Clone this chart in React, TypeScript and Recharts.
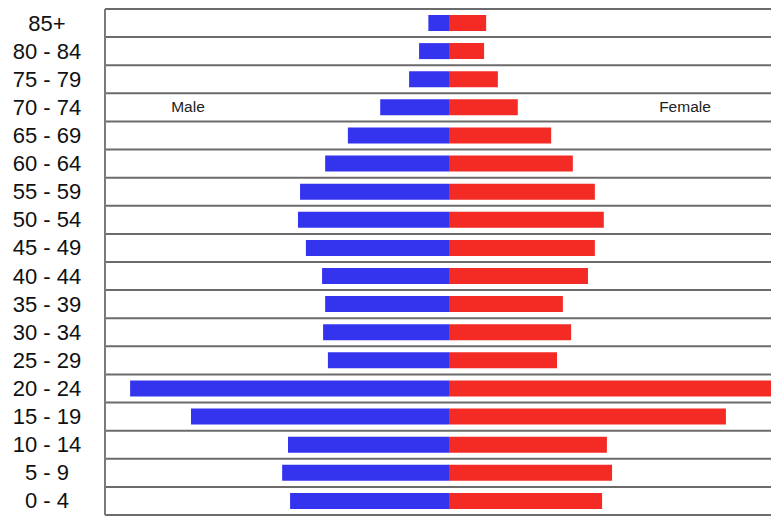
import { BarChart, Bar, XAxis, YAxis, CartesianGrid } from "recharts";

// age groups, top to bottom
const ageGroups = [
    "85+", "80 - 84", "75 - 79", "70 - 74", "65 - 69", "60 - 64", "55 - 59", "50 - 54", "45 - 49",
    "40 - 44", "35 - 39", "30 - 34", "25 - 29", "20 - 24", "15 - 19", "10 - 14", "5 - 9", "0 - 4",
];
const maleValues = [0.6, 0.87, 1.16, 2.0, 2.94, 3.6, 4.33, 4.39, 4.16, 3.69, 3.6, 3.66, 3.52, 9.27, 7.5, 4.68, 4.85, 4.62];
const femaleValues = [1.08, 1.02, 1.42, 2.0, 2.97, 3.6, 4.24, 4.5, 4.24, 4.04, 3.31, 3.55, 3.14, 9.95, 8.05, 4.59, 4.74, 4.45];

const data = ageGroups.map((age, i) => ({
    age,
    male: -maleValues[i],
    female: femaleValues[i],
}));

const FONT = "'Liberation Sans', Arial, Helvetica, sans-serif";

function AgeTick(props: any) {
    const { y, payload } = props;
    return (
        <text x={39} y={y} textAnchor="middle" dominantBaseline="central" fontSize={22} fill="#111" fontFamily={FONT}>
            {payload.value}
        </text>
    );
}

export default function App() {
    return (
        <div style={{ position: "absolute", left: 8, top: 8, width: 763, height: 509, overflow: "hidden", background: "#fff" }}>
            <BarChart
                width={790}
                height={509}
                data={data}
                layout="vertical"
                stackOffset="sign"
                barSize={16}
                margin={{ top: 1, right: 5, left: 0, bottom: 2 }}
            >
                <CartesianGrid
                    vertical={false}
                    stroke="#6b6b6b"
                    strokeWidth={2}
                    horizontalCoordinatesGenerator={({ offset }: any) =>
                        Array.from({ length: ageGroups.length + 1 }, (_, i) => offset.top + (i * offset.height) / ageGroups.length)
                    }
                />
                <XAxis type="number" domain={[-10, 10]} hide allowDataOverflow />
                <YAxis
                    type="category"
                    dataKey="age"
                    width={97}
                    tickLine={false}
                    axisLine={{ stroke: "#7a7a7a", strokeWidth: 2 }}
                    tick={<AgeTick />}
                    interval={0}
                />
                <Bar dataKey="male" stackId="pop" fill="#3434ef" isAnimationActive={false} />
                <Bar dataKey="female" stackId="pop" fill="#f42a24" isAnimationActive={false} />
            </BarChart>
            <div style={{ position: "absolute", left: 140, top: 90, width: 80, textAlign: "center", fontFamily: FONT, fontSize: 15.5, color: "#222" }}>
                Male
            </div>
            <div style={{ position: "absolute", left: 637, top: 90, width: 80, textAlign: "center", fontFamily: FONT, fontSize: 15.5, color: "#222" }}>
                Female
            </div>
        </div>
    );
}
